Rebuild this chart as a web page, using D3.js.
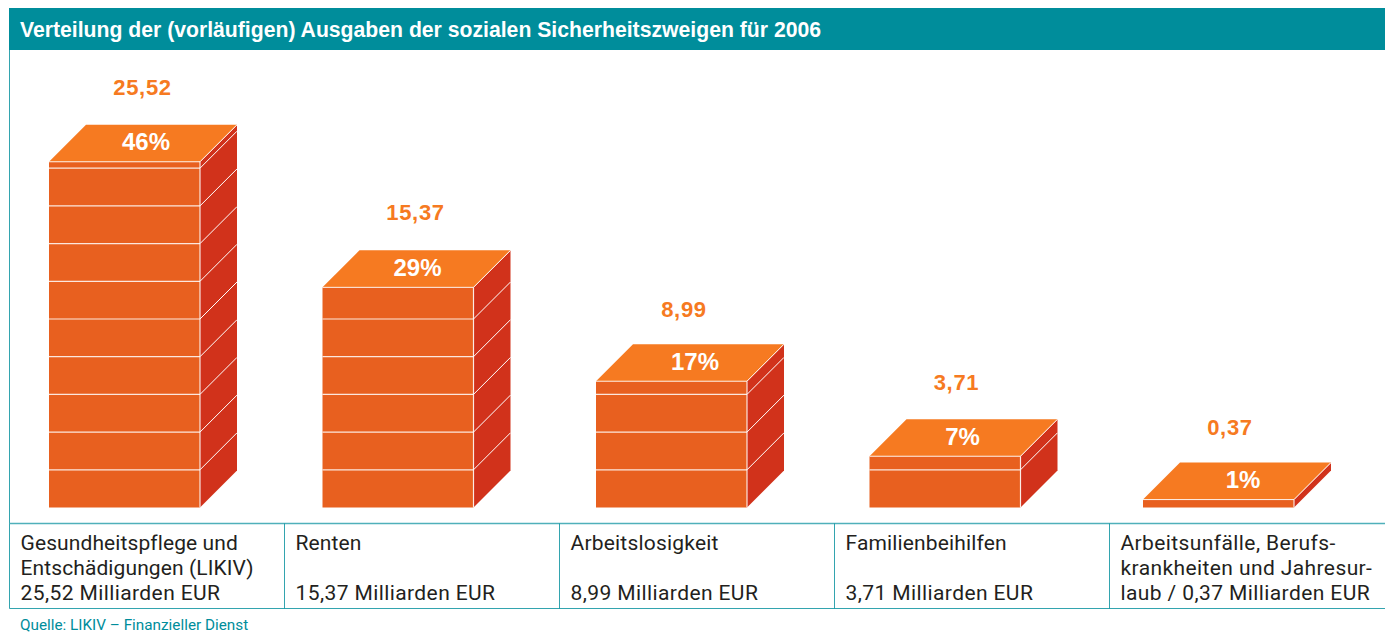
<!DOCTYPE html>
<html><head><meta charset="utf-8">
<script src="https://cdn.jsdelivr.net/npm/d3@7"></script>
<style>html,body{margin:0;padding:0;background:#fff}svg{display:block}</style>
</head><body><svg id="c" width="1385" height="633"></svg>
<script>
const titleText = "Verteilung der (vorläufigen) Ausgaben der sozialen Sicherheitszweigen für 2006";
const sourceText = "Quelle: LIKIV – Finanzieller Dienst";
const categories = ["Gesundheitspflege", "Renten", "Arbeitslosigkeit", "Familienbeihilfen", "Arbeitsunfälle"];
const amounts = [25.52, 15.37, 8.99, 3.71, 0.37];
const amountLabels = ["25,52", "15,37", "8,99", "3,71", "0,37"];
const percents = [46, 29, 17, 7, 1];
const percentLabels = ["46%", "29%", "17%", "7%", "1%"];
const drawnShare = [45.85, 29.2, 16.75, 6.8, 1.05];
const labelLines = [
  ["Gesundheitspflege und", "Entschädigungen (LIKIV)", "25,52 Milliarden EUR"],
  ["Renten", "", "15,37 Milliarden EUR"],
  ["Arbeitslosigkeit", "", "8,99 Milliarden EUR"],
  ["Familienbeihilfen", "", "3,71 Milliarden EUR"],
  ["Arbeitsunfälle, Berufs-", "krankheiten und Jahresur-", "laub / 0,37 Milliarden EUR"]
];
const blockShare = 5;

const svg = d3.select("#c");
const teal = "#008d9b", line = "#4fb0ba";
const W = 1385, depth = 37, barW = 151, base = 507.5;
const bandX = d3.scaleBand().domain(categories).range([9.5, 1384.5]);
const barX = d3.scalePoint().domain(categories).range([49, 1143]);
const y = d3.scaleLinear().domain([0, 50]).range([base, base - 377]);
const pctNudge = [97, 95, 99, 93, 100];
const valNudge = [93.5, 93, 88, 87, 87];
const valLift = [67, 67, 64, 66, 65];
const firstLineTrack = [0.1, 0.1, 0.2, 0.15, 0.4];
const secondLineTrack = [0.1, 0.4, 0.4, 0.4, 0.4];

svg.append("rect").attr("x", 9).attr("y", 8).attr("width", W - 9).attr("height", 42).attr("fill", teal);
svg.append("text").attr("x", 20).attr("y", 36.5).attr("fill", "#fff")
  .attr("font-family", "Liberation Sans").attr("font-weight", 700).attr("font-size", 21.2).text(titleText);

svg.append("line").attr("x1", 9.5).attr("x2", 9.5).attr("y1", 50).attr("y2", 608.5).attr("stroke", teal).attr("stroke-opacity", .8);
svg.append("line").attr("x1", 9.5).attr("x2", W).attr("y1", 523.5).attr("y2", 523.5).attr("stroke", line).attr("stroke-width", 1.4);
svg.append("line").attr("x1", 9.5).attr("x2", W).attr("y1", 608.5).attr("y2", 608.5).attr("stroke", teal).attr("stroke-opacity", .8);
categories.slice(1).forEach(c => {
  svg.append("line").attr("x1", bandX(c)).attr("x2", bandX(c)).attr("y1", 523.5).attr("y2", 608.5).attr("stroke", teal).attr("stroke-opacity", .8);
});

const bars = svg.selectAll("g.bar").data(categories).join("g").attr("class", "bar");
bars.each(function (c, i) {
  const g = d3.select(this), x0 = barX(c), yT = y(drawnShare[i]);
  const poly = p => p.map(q => q.join(",")).join(" ");
  g.append("polygon").attr("fill", "#d1321b")
    .attr("points", poly([[x0 + barW, yT], [x0 + barW + depth, yT - depth], [x0 + barW + depth, base - depth], [x0 + barW, base]]));
  g.append("rect").attr("x", x0).attr("y", yT).attr("width", barW).attr("height", base - yT).attr("fill", "#e8601f");
  g.append("polygon").attr("fill", "#f67a21")
    .attr("points", poly([[x0, yT], [x0 + depth, yT - depth], [x0 + barW + depth, yT - depth], [x0 + barW, yT]]));
  const seps = d3.range(blockShare, drawnShare[i], blockShare);
  seps.forEach(s => {
    const ys = y(s);
    g.append("line").attr("x1", x0).attr("x2", x0 + barW).attr("y1", ys).attr("y2", ys).attr("stroke", "#fff").attr("stroke-opacity", .85).attr("stroke-width", 1.2);
    g.append("line").attr("x1", x0 + barW).attr("x2", x0 + barW + depth).attr("y1", ys).attr("y2", ys - depth).attr("stroke", "#fff").attr("stroke-width", 1);
  });
  g.append("line").attr("x1", x0).attr("x2", x0 + barW).attr("y1", yT).attr("y2", yT).attr("stroke", "#fff").attr("stroke-opacity", .85).attr("stroke-width", 1);
  g.append("line").attr("x1", x0 + barW).attr("x2", x0 + barW + depth).attr("y1", yT).attr("y2", yT - depth).attr("stroke", "#fff").attr("stroke-width", 1);
  g.append("line").attr("x1", x0 + barW).attr("x2", x0 + barW).attr("y1", yT).attr("y2", base).attr("stroke", "#fff").attr("stroke-opacity", .85).attr("stroke-width", 1.2);
  g.append("text").attr("x", x0 + pctNudge[i]).attr("y", yT - 11.5).attr("text-anchor", "middle").attr("fill", "#fff")
    .attr("font-family", "Liberation Sans").attr("font-weight", 700).attr("font-size", 24).text(percentLabels[i]);
  g.append("text").attr("x", x0 + valNudge[i]).attr("y", yT - valLift[i]).attr("text-anchor", "middle").attr("fill", "#f67a21")
    .attr("font-family", "Liberation Sans").attr("font-weight", 700).attr("font-size", 22).attr("letter-spacing", 0.7).text(amountLabels[i]);
  [549.5, 574.5, 600].forEach((ty, k) => {
    const track = k === 0 ? firstLineTrack[i] : k === 1 ? secondLineTrack[i] : 0.4;
    svg.append("text").attr("x", bandX(c) + 11).attr("y", ty).attr("fill", "#231f20")
      .attr("font-family", "Roboto").attr("font-size", 21).attr("letter-spacing", track).text(labelLines[i][k]);
  });
});
svg.append("text").attr("x", 20).attr("y", 629.5).attr("fill", teal)
  .attr("font-family", "Roboto").attr("font-size", 15.3).text(sourceText);
</script></body></html>
